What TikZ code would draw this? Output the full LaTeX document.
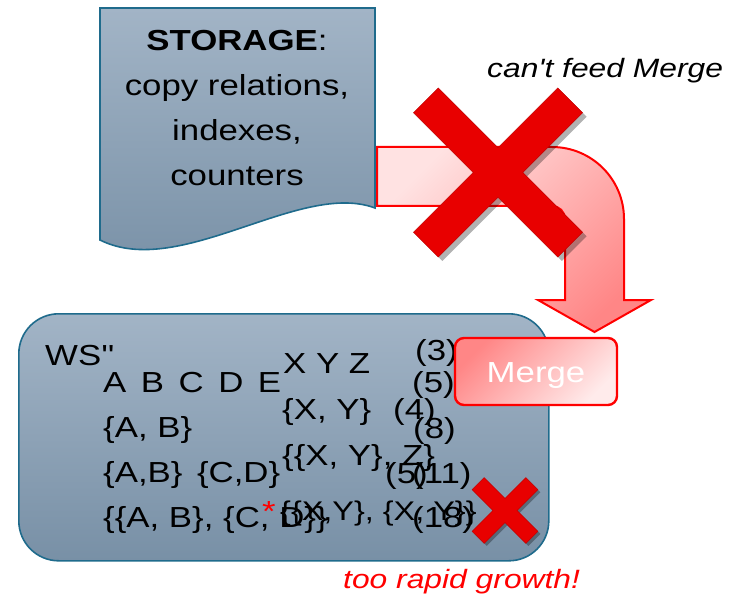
\documentclass[tikz,border=0pt]{standalone}
\usepackage{fontspec}
\setmainfont[FakeStretch=1.2,Ligatures=TeXOff]{Liberation Sans}

\definecolor{slateTop}{HTML}{A2B4C6}
\definecolor{slateBot}{HTML}{7890A6}
\definecolor{slateEdge}{HTML}{1F6B8C}
\definecolor{pinkLight}{HTML}{FFE2E2}
\definecolor{pinkDark}{HTML}{FF8686}
\definecolor{crossRed}{HTML}{E80000}

% twelve-corner outline of a cross: #1 = half arm length, #2 = half arm thickness
\newcommand\xpoly[2]{(#1,#2) -- (#2,#2) -- (#2,#1) -- (-#2,#1) -- (-#2,#2) -- (-#1,#2)
  -- (-#1,-#2) -- (-#2,-#2) -- (-#2,-#1) -- (#2,-#1) -- (#2,-#2) -- (#1,-#2) -- cycle}

\tikzset{
  slate/.style={draw=slateEdge, line width=1.6pt, top color=slateTop, bottom color=slateBot},
  pinkarrow/.style={draw=red, line width=2pt, top color=pinkLight, bottom color=pinkDark, shading angle=45},
  mergebox/.style={draw=red, line width=2.4pt, rounded corners=9pt, top color=pinkDark,
    bottom color=pinkLight!70!white, shading angle=45, minimum width=162pt, minimum height=67pt,
    text=white, font=\fontsize{29}{34}\selectfont, text height=21pt, text depth=0pt},
  xfill/.style={fill=crossRed, draw=crossRed!85!black, line width=0.5pt},
  xshadow/.style={fill=black, opacity=0.3},
  wstext/.style={anchor=base west, inner sep=0pt, font=\fontsize{29}{34}\selectfont},
  storetext/.style={align=center, inner sep=0pt, font=\fontsize{29}{45}\selectfont},
  note/.style={anchor=base west, inner sep=0pt, font=\fontsize{26.5}{30}\selectfont\itshape},
}

\begin{document}
\begin{tikzpicture}[x=1pt,y=-1pt]
\useasboundingbox (0,0) rectangle (744,596);

% storage document with wavy lower edge
\path[slate] (100,8) -- (375,8) -- (375,208) .. controls (300,180) and (180,280) .. (100,240) -- cycle;
\node[storetext] (storage) at (237,108.5) {\textbf{STORAGE}:\\copy relations,\\indexes,\\counters};

% bent arrow from storage down towards Merge
\path[pinkarrow] (377,147) -- (552,147) arc[start angle=-90,end angle=0,radius=72]
  -- (624,300) -- (651,300) -- (594.5,332) -- (538,300) -- (565,300) -- (565,219)
  arc[start angle=0,end angle=-90,radius=13] -- (377,206) -- cycle;

% large cross over the arrow
\begin{scope}[shift={(502,176.5)},rotate=45]
  \path[xshadow] \xpoly{102}{17.5};
\end{scope}
\begin{scope}[shift={(498,172.5)},rotate=45]
  \path[xfill] \xpoly{102}{17.5};
\end{scope}

% working set box
\node[slate, rounded corners=40pt, minimum width=530pt, minimum height=247pt, anchor=north west]
  (ws) at (18,313) {};

\node[wstext] (wsname) at (45,365) {WS''};
\node[wstext] (abcde) at (103,392) {A\, B\, C\, D\, E};
\node[wstext] (ab) at (103,437) {\{A, B\}};
\node[wstext] (abcd) at (103,482) {\{A,B\}\, \{C,D\}};
\node[wstext] (abcdset) at (103,527) {\{\{A, B\}, \{C, D\}\}};
\node[wstext, text=red] (star) at (262,521) {*};

\node[wstext] (xyz) at (283,373) {X Y Z};
\node[wstext] (xy) at (282,419) {\{X, Y\}};
\node[wstext] (xyzset) at (282,465) {\{\{X, Y\}, Z\}};
\node[wstext, font=\fontsize{27}{34}\selectfont] (xyxy) at (280,520) {\{\{X,Y\}, \{X, Y\}\}};

\node[wstext] (c3) at (415,360) {(3)};
\node[wstext] (c5a) at (412,392) {(5)};
\node[wstext] (c4) at (393,419) {(4)};
\node[wstext] (c8) at (413,438) {(8)};
\node[wstext] (c5b) at (385,483) {(5)};
\node[wstext] (c11) at (412,483) {(11)};
\node[wstext] (c18) at (412,527) {(18)};

% merge operator
\node[mergebox] (merge) at (536,371.5) {Merge};

% small cross in the corner of the working set
\begin{scope}[shift={(507.5,513)},rotate=45]
  \path[xshadow] \xpoly{38}{8.5};
\end{scope}
\begin{scope}[shift={(505,510.5)},rotate=45]
  \path[xfill] \xpoly{38}{8.5};
\end{scope}

% remarks
\node[note] (feed) at (487,78) {can't feed Merge};
\node[note, text=red] (growth) at (343,588) {too rapid growth!};
\end{tikzpicture}
\end{document}
